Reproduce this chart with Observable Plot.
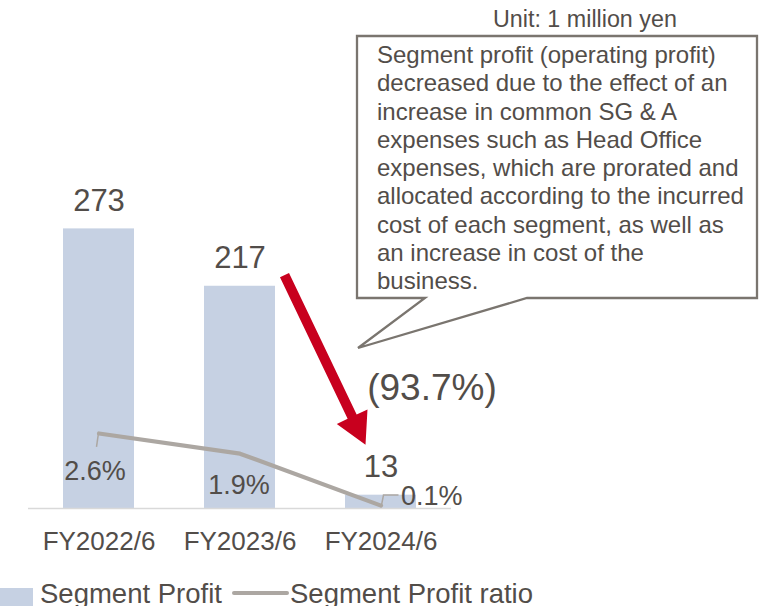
<!DOCTYPE html>
<html><head><meta charset="utf-8">
<script src="https://cdn.jsdelivr.net/npm/d3@7"></script>
<script src="https://cdn.jsdelivr.net/npm/@observablehq/plot@0.6"></script>
<style>
html,body{margin:0;padding:0;background:#fff;overflow:hidden}
#wrap{position:relative;width:759px;height:606px;font-family:"Liberation Sans",Arial,sans-serif;color:#524d49}
#chart{position:absolute;left:0;top:0}
#legend{position:absolute;left:0;top:572px;width:759px;height:34px}
</style></head><body>
<div id="wrap"><div id="chart"></div><div id="legend"></div></div>
<script>
// ---- data ----
const years = ["FY2022/6", "FY2023/6", "FY2024/6"];
const segmentProfit = [273, 217, 13];
const profitRatio = [2.6, 1.9, 0.1];
const ratioLabels = ["2.6%", "1.9%", "0.1%"];
const changeLabel = "(93.7%)";
const unitLabel = "Unit: 1 million yen";
const noteLines = [
  "Segment profit (operating profit)",
  "decreased due to the effect of an",
  "increase in common SG & A",
  "expenses such as Head Office",
  "expenses, which are prorated and",
  "allocated according to the incurred",
  "cost of each segment, as well as",
  "an increase in cost of the",
  "business."
];
const legendLabels = ["Segment Profit", "Segment Profit ratio"];

// ---- styles ----
const FONT = '"Liberation Sans", Arial, sans-serif';
const TEXT = "#524d49";
const BAR = "#c6d1e3";
const LINE = "#aca7a2";
const RED = "#c8001e";
const BOX = "#7a756f";

const rows = years.map((year, i) => ({
  year, profit: segmentProfit[i], ratio: profitRatio[i], ratioLabel: ratioLabels[i], i
}));

// secondary (ratio) axis mapped onto primary value units
const ratioToY = d3.scaleLinear([0, 17.6], [0, 496]);

const plot = Plot.plot({
  width: 759, height: 572,
  marginLeft: 28, marginRight: 308, marginTop: 0, marginBottom: 64,
  style: {fontFamily: FONT, color: TEXT, background: "white", overflow: "visible"},
  x: {domain: years, paddingInner: 0.5, paddingOuter: 0.25, axis: null, label: null},
  y: {domain: [0, 496], axis: null},
  marks: [
    Plot.barY(rows, {x: "year", y: "profit", fill: BAR}),
    Plot.ruleY([0], {stroke: "#d9d9d9", strokeWidth: 1.5}),
    Plot.line(rows, {x: "year", y: d => ratioToY(d.ratio), stroke: LINE, strokeWidth: 4.2}),
    Plot.text(rows, {x: "year", y: "profit", text: d => String(d.profit), dy: -28, fontSize: 31, fill: TEXT}),
    Plot.text(rows.filter(d => d.i === 0), {x: "year", y: d => ratioToY(d.ratio), text: "ratioLabel", dx: -4, dy: 38, fontSize: 27, fill: TEXT}),
    Plot.text(rows.filter(d => d.i === 1), {x: "year", y: d => ratioToY(d.ratio), text: "ratioLabel", dx: -1, dy: 32, fontSize: 27, fill: TEXT}),
    Plot.text(rows.filter(d => d.i === 2), {x: "year", y: d => ratioToY(d.ratio), text: "ratioLabel", textAnchor: "start", dx: 20, dy: -9, fontSize: 27, fill: TEXT}),
    Plot.text(rows.filter(d => d.i === 2), {x: "year", y: "profit", text: () => changeLabel, dx: 51, dy: -107, fontSize: 37, fill: TEXT}),
    Plot.axisX({tickSize: 0, tickPadding: 23.5, fontSize: 26, fill: TEXT, label: null})
  ]
});
document.getElementById("chart").appendChild(plot);

// ---- annotations (derived from the plot's scales) ----
const xs = plot.scale("x"), ys = plot.scale("y");
const cx = v => xs.apply(v) + xs.bandwidth / 2;
const svg = d3.select(plot);

// leader lines for ratio labels
const p0 = [cx(years[0]), ys.apply(ratioToY(profitRatio[0]))];
const p2 = [cx(years[2]), ys.apply(ratioToY(profitRatio[2]))];
svg.append("path")
  .attr("d", `M${p0[0]},${p0[1]}L${p0[0] - 2},${p0[1] + 14}`)
  .attr("stroke", LINE).attr("stroke-width", 1.5).attr("fill", "none");
svg.append("path")
  .attr("d", `M${p2[0] + 1},${p2[1]}L${p2[0] + 3},${p2[1] - 10}L${p2[0] + 18},${p2[1] - 10}`)
  .attr("stroke", LINE).attr("stroke-width", 1.5).attr("fill", "none");

// red arrow from FY2023 value to FY2024 value
const S = [cx(years[1]) + 45, ys.apply(segmentProfit[1]) - 10.7];
const T = [cx(years[2]) - 15, ys.apply(segmentProfit[2]) - 50];
{
  const dx = T[0] - S[0], dy = T[1] - S[1], L = Math.hypot(dx, dy);
  const d = [dx / L, dy / L], n = [-d[1], d[0]];
  const headLen = 31, headHalf = 17, shaftHalf = 5;
  const B = [T[0] - d[0] * headLen, T[1] - d[1] * headLen];
  const pt = (P, k) => [P[0] + n[0] * k, P[1] + n[1] * k];
  const pts = [pt(S, shaftHalf), pt(B, shaftHalf), pt(B, headHalf), T, pt(B, -headHalf), pt(B, -shaftHalf), pt(S, -shaftHalf)];
  svg.append("path").attr("d", "M" + pts.map(p => p.join(",")).join("L") + "Z").attr("fill", RED);
}

// callout box
const callout = svg.append("g").attr("text-anchor", "start");
callout.append("path")
  .attr("d", "M357,36H757V298H527L358,348L425,298H357Z")
  .attr("fill", "white").attr("stroke", BOX).attr("stroke-width", 2.3);
callout.selectAll("text.note").data(noteLines).join("text")
  .attr("class", "note")
  .attr("x", 377).attr("y", (d, i) => 63 + i * 28.25)
  .attr("text-anchor", "start")
  .attr("font-size", 24).attr("fill", TEXT).attr("font-family", FONT)
  .text(d => d);
svg.append("text").attr("x", 493).attr("y", 27)
  .attr("text-anchor", "start")
  .attr("font-size", 23.3).attr("fill", TEXT).attr("font-family", FONT)
  .text(unitLabel);

// ---- legend (below the plot) ----
const lg = d3.select("#legend").append("svg").attr("width", 759).attr("height", 34)
  .style("font-family", FONT).style("display", "block");
lg.append("rect").attr("x", 0).attr("y", 16).attr("width", 33).attr("height", 18).attr("fill", BAR);
lg.append("text").attr("x", 40).attr("y", 31).attr("font-size", 27.5).attr("fill", TEXT).text(legendLabels[0]);
lg.append("line").attr("x1", 234).attr("x2", 287).attr("y1", 21).attr("y2", 21)
  .attr("stroke", LINE).attr("stroke-width", 4).attr("stroke-linecap", "round");
lg.append("text").attr("x", 290).attr("y", 31).attr("font-size", 27.5).attr("fill", TEXT).text(legendLabels[1]);
</script>
</body></html>
